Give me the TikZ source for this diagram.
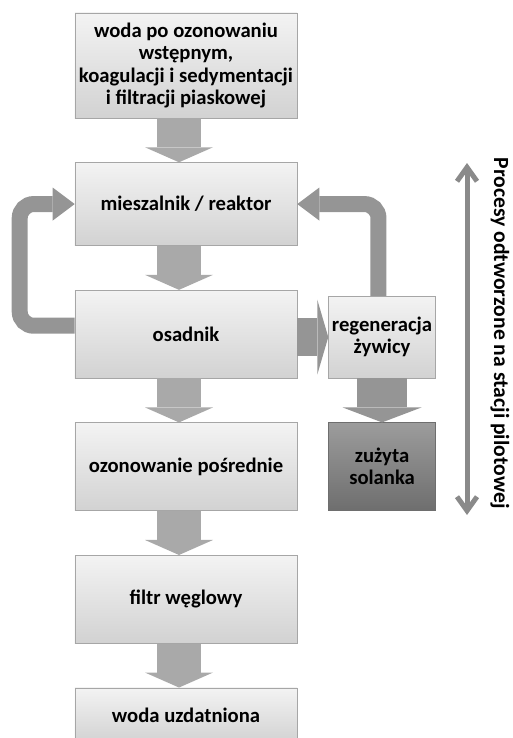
\documentclass[tikz,border=0pt]{standalone}
\usepackage{fontspec}
\setmainfont{Carlito}
\usetikzlibrary{calc,positioning,arrows.meta}

\definecolor{boxtop}{HTML}{F3F3F3}
\definecolor{boxbot}{HTML}{D2D2D2}
\definecolor{boxline}{HTML}{A6A6A6}
\definecolor{brinetop}{HTML}{9C9C9C}
\definecolor{brinebot}{HTML}{6E6E6E}
\definecolor{flowgray}{HTML}{A9A9A9}
\definecolor{backgray}{HTML}{959595}
\definecolor{scalegray}{HTML}{8A8A8A}

\begin{document}
\begin{tikzpicture}[
    x=0.25mm, y=-0.25mm,
    node distance=11mm,
    align=center,
    font=\bfseries\fontsize{14.7pt}{15.8pt}\selectfont,
    stage/.style={rectangle, draw=boxline, top color=boxtop, bottom color=boxbot,
      minimum width=55.5mm, minimum height=22mm, inner sep=2pt},
    side/.style={stage, minimum width=26.75mm},
    brinebox/.style={top color=brinetop, bottom color=brinebot, draw=brinebot},
    flow/.style={draw=flowgray, line width=11mm,
      -{Triangle[length=3.75mm, width=17mm, line width=0pt]}},
    sideflow/.style={draw=backgray, line width=#1},
    backflow/.style={draw=backgray, line width=4mm, rounded corners=3.5mm,
      -{Triangle[length=5.5mm, width=8.25mm, line width=0pt]}},
    scalearrow/.style={draw=scalegray, line width=1.25mm,
      {Straight Barb[length=3.5mm, width=5mm]}-{Straight Barb[length=3.5mm, width=5mm]}}
  ]

  \useasboundingbox (0,0) rectangle (512,738);
  \clip (0,0) rectangle (512,738);

  % main column

  \node (feed)    [stage, minimum height=26.25mm] at (186,65.5) {woda po ozonowaniu\\
                                                                   wstępnym,\\
                                                                   koagulacji i sedymentacji\\
                                                                   i filtracji piaskowej};
  \node (mixer)   [stage, minimum height=20.75mm, below=of feed] {mieszalnik / reaktor};
  \node (settler) [stage, below=of mixer]                        {osadnik};
  \node (ozone)   [stage, below=of settler]                      {ozonowanie pośrednie};
  \node (carbon)  [stage, below=of ozone]                        {filtr węglowy};
  \node (treated) [stage, minimum height=13.75mm, below=of carbon] {woda uzdatniona};

  % side branch next to the settler

  \node (regen) [side, minimum height=20.5mm, anchor=south west]
                at ($(settler.south east)+(31,0)$)           {regeneracja\\
                                                                żywicy};
  \node (brine) [side, brinebox, below=of regen]             {zużyta\\
                                                                solanka};

  % scale on the right
  \coordinate (scaletop) at (467,163);
  \coordinate (scalebot) at (467,515);
  \node (scalelabel) [rotate=-90, font=\bfseries\fontsize{15.4pt}{16pt}\selectfont]
                     at (500,333) {Procesy odtworzone na stacji pilotowej};

  \draw[flow] ($(feed.south)+(-7,0)$)    -- ($(mixer.north)+(-7,0)$);
  \draw[flow] ($(mixer.south)+(-7,0)$)   -- ($(settler.north)+(-7,0)$);
  \draw[flow] ($(settler.south)+(-7,0)$) -- ($(ozone.north)+(-7,0)$);
  \draw[flow] ($(ozone.south)+(-7,0)$)   -- ($(carbon.north)+(-7,0)$);
  \draw[flow] ($(carbon.south)+(-7,0)$)  -- ($(treated.north)+(-7,0)$);

  \draw[sideflow=9.5mm, -{Triangle[length=2.75mm, width=18.75mm, line width=0pt]}]
        (settler.east |- regen.west) -- (regen.west);
  \draw[sideflow=12.5mm, -{Triangle[length=3.75mm, width=19.75mm, line width=0pt]}]
        (regen.south) -- (brine.north);

  \draw[backflow] ([yshift=2.1mm]settler.west) -- ++(-55,0) |- (mixer.west);
  \draw[backflow] ([xshift=-0.9mm]regen.north) |- (mixer.east);

  \draw[scalearrow] (scaletop) -- (scalebot);

\end{tikzpicture}
\end{document}
